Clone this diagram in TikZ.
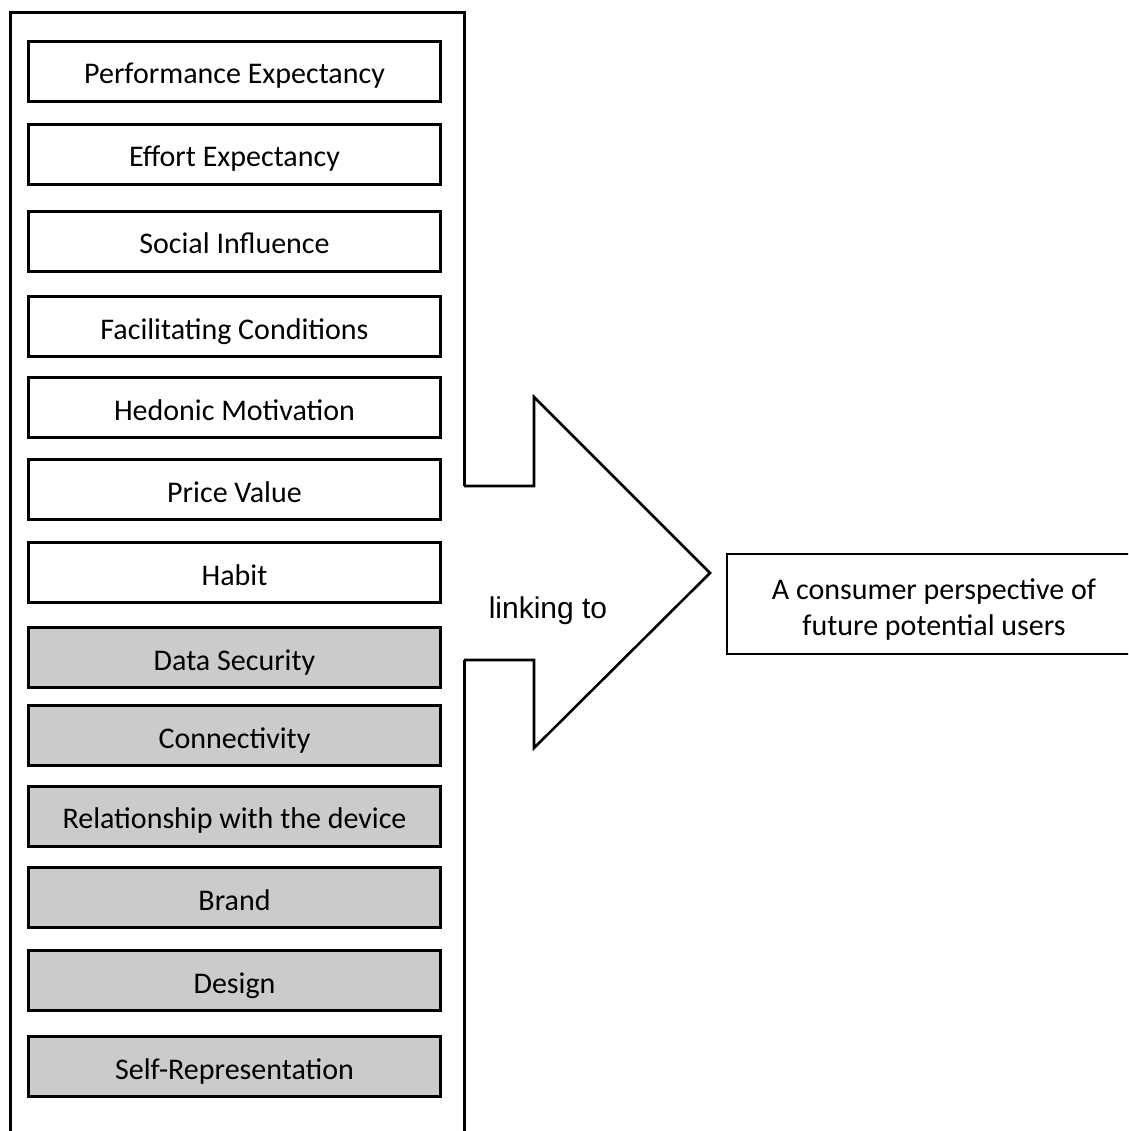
\documentclass[tikz,border=0pt]{standalone}
\usepackage{fontspec}
\setmainfont{Carlito}
\newfontfamily\arialfont{Liberation Sans}
\begin{document}
\begin{tikzpicture}[x=1pt,y=-1pt,
  factor/.style={draw=black, line width=3pt, fill=white, minimum width=412pt,
    minimum height=60pt, inner sep=0pt, text height=25pt, text depth=0pt,
    font=\fontsize{30}{36}\selectfont},
  newfactor/.style={factor, fill=boxgray},
  outcome/.style={draw=black, line width=2.6pt, fill=white, minimum width=416pt,
    minimum height=100pt, inner sep=0pt},
  outcometext/.style={align=center, inner sep=0pt, font=\fontsize{30}{36}\selectfont}]
\definecolor{boxgray}{HTML}{CBCBCB}
\useasboundingbox (0,0) rectangle (1128,1131);
\begin{scope}
\clip (0,0) rectangle (1128,1131);
% outer frame, open at the bottom
\draw[line width=3pt] (10.5,1140) -- (10.5,12.5) -- (464,12.5) -- (464,486);
\draw[line width=3pt] (464,660) -- (464,1140);
% block arrow leaving the frame
\coordinate (a1) at (464,486);
\coordinate (a2) at (534,486);
\coordinate (a3) at (534,397);
\coordinate (tip) at (710,573);
\coordinate (a5) at (534,748);
\coordinate (a6) at (534,660);
\coordinate (a7) at (464,660);
\draw[line width=2.6pt, line join=miter] (a1) -- (a2) -- (a3) -- (tip) -- (a5) -- (a6) -- (a7);
\node[anchor=base, inner sep=0pt, font=\arialfont\fontsize{30}{36}\selectfont] (link) at (548,618) {linking to};
% factor boxes
\node[factor] (pe) at (234.5,71.5) {Performance Expectancy};
\node[factor] (ee) at (234.5,154.5) {Effort Expectancy};
\node[factor] (si) at (234.5,241.5) {Social Influence};
\node[factor] (fc) at (234.5,326.5) {Facilitating Conditions};
\node[factor] (hm) at (234.5,407.5) {Hedonic Motivation};
\node[factor] (pv) at (234.5,489.5) {Price Value};
\node[factor] (hb) at (234.5,572.5) {Habit};
\node[newfactor] (ds) at (234.5,657.5) {Data Security};
\node[newfactor] (cn) at (234.5,735.5) {Connectivity};
\node[newfactor] (rd) at (234.5,816) {Relationship with the device};
\node[newfactor] (br) at (234.5,897.5) {Brand};
\node[newfactor] (dg) at (234.5,980.5) {Design};
\node[newfactor] (sr) at (234.5,1066.5) {Self-Representation};
% outcome box
\node[outcome] (out) at (935,604) {};
\node[outcometext] (outtext) at (934,610) {A consumer perspective of\\future potential users};
\end{scope}
\end{tikzpicture}
\end{document}
